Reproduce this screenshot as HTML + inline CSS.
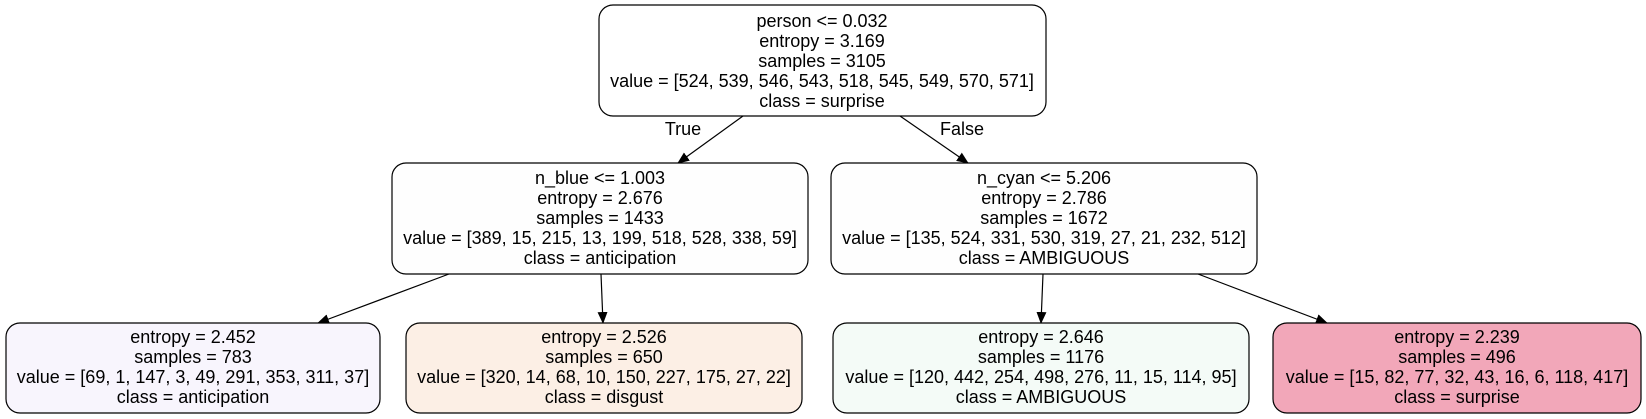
<!DOCTYPE html>
<html><head><meta charset="utf-8"><style>
html,body{margin:0;padding:0;background:#fff;}
svg{display:block;font-family:"Liberation Sans",Helvetica,Arial,sans-serif;}
text{font-size:18px;fill:#000;text-anchor:middle;}
</style></head><body>
<svg width="1646" height="419" viewBox="0 0 1646 419">
<defs><marker id="ar" markerWidth="12" markerHeight="12" refX="11" refY="6" orient="auto" markerUnits="userSpaceOnUse"><path d="M0,1 L12,6 L0,11 z" fill="#000"/></marker></defs>
<g stroke="#000" stroke-width="1.2" fill="none">
<line x1="743" y1="116" x2="678" y2="163" marker-end="url(#ar)"/>
<line x1="900" y1="116" x2="968" y2="163" marker-end="url(#ar)"/>
<line x1="449" y1="274" x2="318" y2="323" marker-end="url(#ar)"/>
<line x1="601" y1="274" x2="603" y2="323" marker-end="url(#ar)"/>
<line x1="1043" y1="274" x2="1041" y2="323" marker-end="url(#ar)"/>
<line x1="1198" y1="274" x2="1327" y2="323" marker-end="url(#ar)"/>
</g>
<text x="683" y="135">True</text>
<text x="962" y="135">False</text>

<g>
<rect x="599" y="5" width="447" height="111" rx="14" fill="#fff" stroke="#000" stroke-width="1.2"/>
<text x="822" y="27">person &lt;= 0.032</text><text x="822" y="47">entropy = 3.169</text><text x="822" y="67">samples = 3105</text><text x="822" y="87">value = [524, 539, 546, 543, 518, 545, 549, 570, 571]</text><text x="822" y="107">class = surprise</text>
</g>
<g>
<rect x="392" y="163" width="416" height="111" rx="14" fill="#fefefe" stroke="#000" stroke-width="1.2"/>
<text x="600" y="184">n_blue &lt;= 1.003</text><text x="600" y="204">entropy = 2.676</text><text x="600" y="224">samples = 1433</text><text x="600" y="244">value = [389, 15, 215, 13, 199, 518, 528, 338, 59]</text><text x="600" y="264">class = anticipation</text>
</g>
<g>
<rect x="831" y="163" width="426" height="111" rx="14" fill="#fefefe" stroke="#000" stroke-width="1.2"/>
<text x="1044" y="184">n_cyan &lt;= 5.206</text><text x="1044" y="204">entropy = 2.786</text><text x="1044" y="224">samples = 1672</text><text x="1044" y="244">value = [135, 524, 331, 530, 319, 27, 21, 232, 512]</text><text x="1044" y="264">class = AMBIGUOUS</text>
</g>
<g>
<rect x="6" y="323" width="374" height="90" rx="14" fill="#f8f5fd" stroke="#000" stroke-width="1.2"/>
<text x="193" y="343">entropy = 2.452</text><text x="193" y="363">samples = 783</text><text x="193" y="383">value = [69, 1, 147, 3, 49, 291, 353, 311, 37]</text><text x="193" y="403">class = anticipation</text>
</g>
<g>
<rect x="406" y="323" width="396" height="90" rx="14" fill="#fcefe5" stroke="#000" stroke-width="1.2"/>
<text x="604" y="343">entropy = 2.526</text><text x="604" y="363">samples = 650</text><text x="604" y="383">value = [320, 14, 68, 10, 150, 227, 175, 27, 22]</text><text x="604" y="403">class = disgust</text>
</g>
<g>
<rect x="833" y="323" width="416" height="90" rx="14" fill="#f4fbf7" stroke="#000" stroke-width="1.2"/>
<text x="1041" y="343">entropy = 2.646</text><text x="1041" y="363">samples = 1176</text><text x="1041" y="383">value = [120, 442, 254, 498, 276, 11, 15, 114, 95]</text><text x="1041" y="403">class = AMBIGUOUS</text>
</g>
<g>
<rect x="1273" y="323" width="368" height="90" rx="14" fill="#f2a7b9" stroke="#000" stroke-width="1.2"/>
<text x="1457" y="343">entropy = 2.239</text><text x="1457" y="363">samples = 496</text><text x="1457" y="383">value = [15, 82, 77, 32, 43, 16, 6, 118, 417]</text><text x="1457" y="403">class = surprise</text>
</g>
</svg>
</body></html>
